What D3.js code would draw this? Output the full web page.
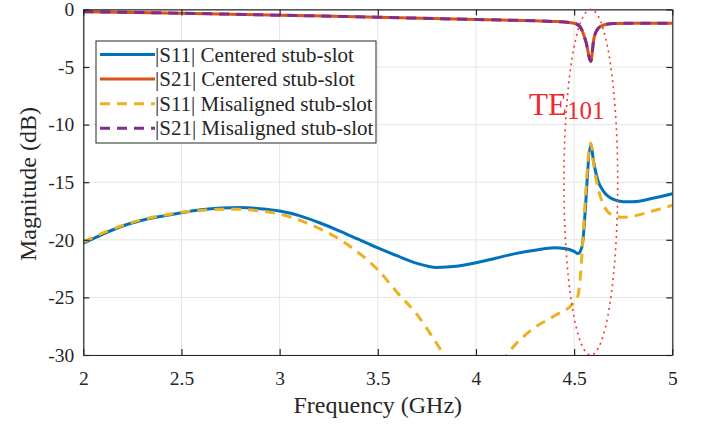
<!DOCTYPE html>
<html><head><meta charset="utf-8">
<script src="https://cdn.jsdelivr.net/npm/d3@7"></script>
</head><body style="margin:0;background:#fff"><svg id="c" width="707" height="426"></svg>
<script>
// ---- data ----
const freqCentered = [2.0,2.1,2.2,2.3,2.4,2.5,2.6,2.7,2.8,2.9,3.0,3.1,3.2,3.3,3.4,3.5,3.6,3.7,3.8,3.9,4.0,4.1,4.2,4.3,4.4,4.45,4.5,4.52,4.54,4.585,4.6,4.62,4.65,4.7,4.75,4.8,4.9,5.0];
const s11Centered = [-20.3,-19.5,-18.8,-18.3,-17.95,-17.65,-17.4,-17.25,-17.2,-17.3,-17.5,-17.9,-18.5,-19.2,-19.95,-20.7,-21.4,-22.05,-22.4,-22.3,-22.0,-21.6,-21.2,-20.9,-20.7,-20.75,-21.0,-21.2,-20.6,-11.8,-13.3,-14.8,-15.8,-16.5,-16.7,-16.7,-16.4,-16.0];
const freqMis = [2.0,2.1,2.2,2.3,2.4,2.5,2.6,2.7,2.8,2.9,3.0,3.1,3.2,3.3,3.4,3.5,3.6,3.7,3.8,3.9,4.0,4.1,4.2,4.3,4.4,4.5,4.52,4.585,4.6,4.645,4.695,4.75,4.8,4.9,5.0];
const s11Mis = [-20.2,-19.4,-18.75,-18.25,-17.9,-17.6,-17.45,-17.35,-17.35,-17.5,-17.75,-18.3,-19.0,-19.9,-21.1,-22.6,-24.6,-26.5,-29.0,-31.7,-33.0,-31.2,-29.1,-27.6,-26.6,-25.4,-24.8,-11.6,-13.5,-16.8,-17.85,-18.05,-17.95,-17.5,-17.0];
const freqS21 = [2.0,2.5,3.0,3.5,4.0,4.4,4.5,4.53,4.56,4.585,4.6,4.62,4.65,4.7,4.8,5.0];
const s21Centered = [-0.2,-0.33,-0.5,-0.68,-0.88,-1.05,-1.2,-1.5,-2.8,-4.5,-2.6,-1.7,-1.35,-1.22,-1.2,-1.2];
const s21Mis = [-0.2,-0.33,-0.5,-0.68,-0.88,-1.05,-1.2,-1.5,-2.8,-4.5,-2.6,-1.7,-1.35,-1.22,-1.2,-1.2];
const xTicks = [2,2.5,3,3.5,4,4.5,5];
const xTickLabels = ["2","2.5","3","3.5","4","4.5","5"];
const yTicks = [-30,-25,-20,-15,-10,-5,0];
const yTickLabels = ["-30","-25","-20","-15","-10","-5","0"];
const seriesNames = ["|S11| Centered stub-slot","|S21| Centered stub-slot","|S11| Misaligned stub-slot","|S21| Misaligned stub-slot"];
const seriesColors = ["#0072BD","#D95319","#EDB120","#7E2F8E"];
// annotation ellipse (data units): center freq, center dB, half-width GHz, half-height dB
const ellipseCenter = [4.585, -15];
const ellipseRadii = [0.137, 15];

// ---- layout ----
const FONT="'Liberation Serif'";
const L=83.3, R=672.3, T=9.4, B=355;
const svg=d3.select("#c");
const x=d3.scaleLinear().domain([2,5]).range([L,R]);
const y=d3.scaleLinear().domain([-30,0]).range([B,T]);
const axisCol="#262626";

// grid
const g=svg.append("g");
g.selectAll(".gx").data(xTicks).join("line").attr("x1",d=>x(d)).attr("x2",d=>x(d)).attr("y1",T).attr("y2",B).attr("stroke","#e5e5e5").attr("stroke-width",1);
g.selectAll(".gy").data(yTicks).join("line").attr("y1",d=>y(d)).attr("y2",d=>y(d)).attr("x1",L).attr("x2",R).attr("stroke","#e5e5e5").attr("stroke-width",1);

svg.append("defs").append("clipPath").attr("id","clip").append("rect").attr("x",L).attr("y",T).attr("width",R-L).attr("height",B-T);
const plot=svg.append("g").attr("clip-path","url(#clip)");
const line=d3.line().x(d=>x(d[0])).y(d=>y(d[1])).curve(d3.curveMonotoneX);
const zip=(a,b)=>a.map((v,i)=>[v,b[i]]);
const series=[
  {d:zip(freqCentered,s11Centered),c:seriesColors[0],dash:null},
  {d:zip(freqS21,s21Centered),c:seriesColors[1],dash:null},
  {d:zip(freqMis,s11Mis),c:seriesColors[2],dash:"10,7"},
  {d:zip(freqS21,s21Mis),c:seriesColors[3],dash:"10,7"}
];
series.forEach(s=>{
  plot.append("path").attr("d",line(s.d)).attr("fill","none").attr("stroke",s.c).attr("stroke-width",3).attr("stroke-dasharray",s.dash).attr("stroke-linejoin","round");
});

// axes box
const xa=d3.axisBottom(x).tickValues(xTicks).tickFormat((d,i)=>xTickLabels[i]).tickSizeInner(-6).tickSizeOuter(0).tickPadding(16);
const ya=d3.axisLeft(y).tickValues(yTicks).tickFormat((d,i)=>yTickLabels[i]).tickSizeInner(-6).tickSizeOuter(0).tickPadding(9);
const xt=d3.axisTop(x).tickValues(xTicks).tickFormat("").tickSizeInner(-6).tickSizeOuter(0);
const yr=d3.axisRight(y).tickValues(yTicks).tickFormat("").tickSizeInner(-6).tickSizeOuter(0);
[[xa,`translate(0,${B})`],[ya,`translate(${L},0)`],[xt,`translate(0,${T})`],[yr,`translate(${R},0)`]].forEach(([a,t])=>{
  const ag=svg.append("g").attr("transform",t).call(a);
  ag.select(".domain").attr("stroke",axisCol).attr("stroke-width",1.2);
  ag.selectAll(".tick line").attr("stroke",axisCol).attr("stroke-width",1.2);
  ag.selectAll("text").attr("fill","#262626").style("font-size","19.5px").style("font-family",FONT);
});

// axis labels
svg.append("text").attr("x",(L+R)/2).attr("y",413).attr("text-anchor","middle").style("font-family",FONT).style("font-size","24px").attr("fill","#262626").text("Frequency (GHz)");
svg.append("text").attr("transform",`translate(36,184) rotate(-90)`).attr("text-anchor","middle").style("font-family",FONT).style("font-size","24px").attr("fill","#262626").text("Magnitude (dB)");

// ellipse annotation
svg.append("ellipse").attr("cx",x(ellipseCenter[0])).attr("cy",y(ellipseCenter[1]))
  .attr("rx",x(ellipseCenter[0]+ellipseRadii[0])-x(ellipseCenter[0]))
  .attr("ry",y(ellipseCenter[1])-y(ellipseCenter[1]+ellipseRadii[1]))
  .attr("fill","none").attr("stroke","#f03c32").attr("stroke-width",1.6).attr("stroke-dasharray","2,4");
const te=svg.append("text").attr("x",529).attr("y",115).attr("fill","#ee2a2f").style("font-family",FONT).style("font-size","31px");
te.append("tspan").text("TE");
te.append("tspan").attr("dy",4).style("font-size","25px").text("101");

// legend
const lg=svg.append("g");
lg.append("rect").attr("x",96).attr("y",41).attr("width",280).attr("height",102).attr("fill","#fff").attr("stroke",axisCol).attr("stroke-width",1);
seriesNames.forEach((n,i)=>{
  const yy=54.5+i*24.6;
  lg.append("line").attr("x1",100).attr("x2",155).attr("y1",yy).attr("y2",yy).attr("stroke",seriesColors[i]).attr("stroke-width",3).attr("stroke-dasharray",i>=2?"10,7":null);
  lg.append("text").attr("x",155).attr("y",yy+7).style("font-family",FONT).style("font-size","21px").attr("fill","#262626").text(n);
});
</script></body></html>
